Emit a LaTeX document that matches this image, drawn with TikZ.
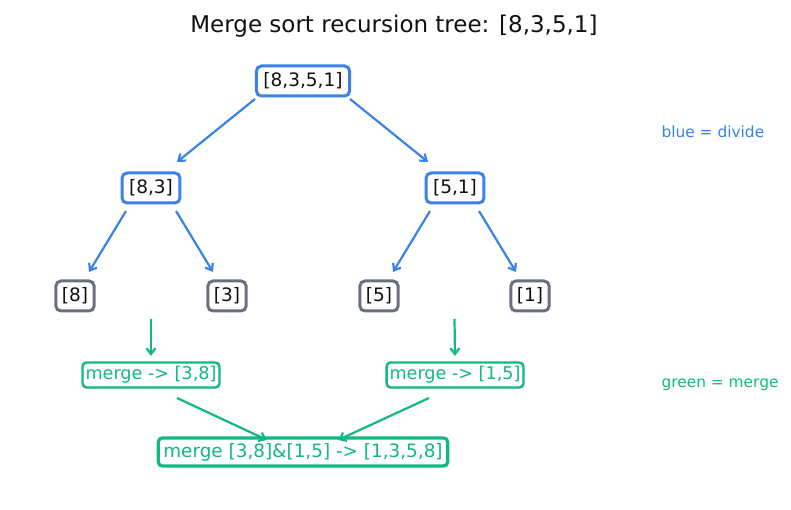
\documentclass[tikz,border=0pt]{standalone}
\usepackage{fontspec}
\setmainfont{DejaVu Sans}
\usetikzlibrary{arrows.meta,calc}
\definecolor{divblue}{HTML}{3B82E6}
\definecolor{mrggreen}{HTML}{10B981}
\definecolor{leafgray}{HTML}{6B7080}
\definecolor{inktxt}{HTML}{111111}

\begin{document}
\begin{tikzpicture}[
    x=1pt, y=1pt,
    every node/.style={text=inktxt, font=\fontsize{18.5}{20}\selectfont},
    divide/.style={draw=divblue, line width=3pt, rounded corners=5pt, fill=white, inner xsep=7pt, minimum height=30pt},
    leaf/.style={draw=leafgray, line width=3pt, rounded corners=5pt, fill=white, inner xsep=6pt, minimum height=30pt},
    merge/.style={draw=mrggreen, line width=2.4pt, rounded corners=4pt, fill=white, text=mrggreen, inner xsep=3pt, minimum height=25pt, font=\fontsize{17.6}{19}\selectfont},
    arr/.style={-{Straight Barb[length=6pt,width=9pt]}, line width=2.2pt}
]
\useasboundingbox (0,0) rectangle (791,510);

\node (title) at (394,484) {\fontsize{23}{25}\selectfont Merge sort recursion tree: [8,3,5,1]};

% divide
\node (root) [divide] at (303,429) {[8,3,5,1]};
\node (n83) [divide] at (151,322) {[8,3]};
\node (n51) [divide] at (455,322) {[5,1]};

\node (l8) [leaf] at (75,214) {[8]};
\node (l3) [leaf] at (227,214) {[3]};
\node (l5) [leaf] at (379,214) {[5]};
\node (l1) [leaf] at (530,214) {[1]};

% merge
\node (m38) [merge] at (151,135) {merge -> [3,8]};
\node (m15) [merge] at (455,135) {merge -> [1,5]};
\node (final) [merge, line width=3.2pt, inner xsep=5pt, minimum height=28pt, font=\fontsize{18.4}{20}\selectfont] at (303,58) {merge [3,8]\&[1,5] -> [1,3,5,8]};

\coordinate (c38) at ($(l8)!0.5!(l3)+(0,-23)$);
\coordinate (c15) at ($(l5)!0.5!(l1)+(0,-23)$);

\node (keyd) [anchor=west, text=divblue, font=\fontsize{15.4}{17}\selectfont] at (658,378) {blue = divide};
\node (keym) [anchor=west, text=mrggreen, font=\fontsize{15.4}{17}\selectfont] at (658,125) {green = merge};

\draw[arr, divblue] ($(root)+(-48,-18)$) -- ($(n83)+(26,26)$);
\draw[arr, divblue] ($(root)+(47,-18)$) -- ($(n51)+(-27,26)$);
\draw[arr, divblue] ($(n83)+(-25,-23)$) -- ($(l8)+(14,24)$);
\draw[arr, divblue] ($(n83)+(25,-23)$) -- ($(l3)+(-14,24)$);
\draw[arr, divblue] ($(n51)+(-25,-23)$) -- ($(l5)+(14,24)$);
\draw[arr, divblue] ($(n51)+(24,-23)$) -- ($(l1)+(-14,24)$);

\draw[arr, mrggreen] (c38) -- ($(m38)+(0,19)$);
\draw[arr, mrggreen] (c15) -- ($(m15)+(0,19)$);
\draw[arr, mrggreen] ($(m38)+(26,-23)$) -- ($(final)+(-36,12)$);
\draw[arr, mrggreen] ($(m15)+(-26,-23)$) -- ($(final)+(35,12)$);

\end{tikzpicture}
\end{document}
